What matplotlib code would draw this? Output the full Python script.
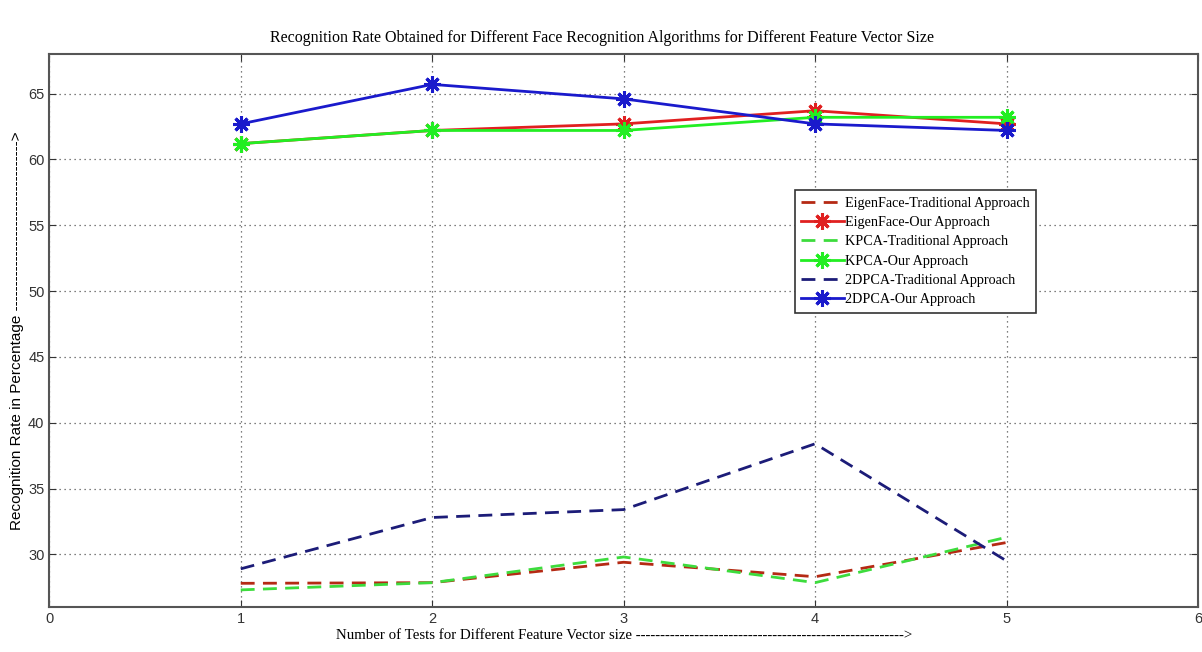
import numpy as np
import matplotlib
matplotlib.use("Agg")
import matplotlib.pyplot as plt

# values
tests = [1, 2, 3, 4, 5]
eigen_trad = [27.8, 27.85, 29.4, 28.3, 30.9]
eigen_our = [61.2, 62.2, 62.7, 63.7, 62.7]
kpca_trad = [27.3, 27.85, 29.8, 27.85, 31.3]
kpca_our = [61.2, 62.2, 62.2, 63.2, 63.2]
pca2d_trad = [28.9, 32.8, 33.4, 38.4, 29.5]
pca2d_our = [62.7, 65.7, 64.6, 62.7, 62.2]

labels = ["EigenFace-Traditional Approach", "EigenFace-Our Approach",
          "KPCA-Traditional Approach", "KPCA-Our Approach",
          "2DPCA-Traditional Approach", "2DPCA-Our Approach"]

serif = "Liberation Serif"
sans = "Liberation Sans"
star = (8, 2, 0)  # matlab-like asterisk

fig = plt.figure(figsize=(12.02, 6.52), dpi=100)
ax = fig.add_axes([0.041, 0.069, 0.9557, 0.848])

ax.plot(tests, eigen_trad, "--", color="#b52a14", lw=2, dashes=(5, 3), label=labels[0])
ax.plot(tests, eigen_our, "-", color="#e02020", lw=2, marker=star, ms=12, mew=2.2, label=labels[1])
ax.plot(tests, kpca_trad, "--", color="#3ddc3d", lw=2, dashes=(5, 3), label=labels[2])
ax.plot(tests, kpca_our, "-", color="#22ee22", lw=2, marker=star, ms=12, mew=2.2, label=labels[3])
ax.plot(tests, pca2d_trad, "--", color="#1c1c78", lw=2, dashes=(5, 3), label=labels[4])
ax.plot(tests, pca2d_our, "-", color="#1a1acc", lw=2, marker=star, ms=12, mew=2.2, label=labels[5])

ax.set_xlim(0, 6)
ax.set_ylim(26, 68)
ax.set_xticks(range(0, 7))
ax.set_yticks(range(30, 66, 5))
ax.grid(True, linestyle=(0, (1, 3)), color="#555555", lw=0.9)
ax.tick_params(direction="in", top=True, right=True, labelsize=10.5, length=5, colors="#333333")
for t in ax.get_xticklabels() + ax.get_yticklabels():
    t.set_family(sans)
for s in ax.spines.values():
    s.set_color("#555555")
    s.set_linewidth(1.5)

ttl = ax.set_title("Recognition Rate Obtained for Different Face Recognition Algorithms for Different Feature Vector Size",
                   fontsize=11.5, family=serif, pad=9)
ttl.set_x(0.481)
ax.set_xlabel("Number of Tests for Different Feature Vector size " + "-" * 55 + ">",
              fontsize=10.7, family=serif, labelpad=2)
ax.set_ylabel("Recognition Rate in Percentage " + "-" * 34 + ">",
              fontsize=11, family=sans, labelpad=3)

leg = ax.legend(loc="upper left", bbox_to_anchor=(0.649, 0.754), borderaxespad=0,
                fancybox=False, prop={"family": serif, "size": 10.2}, handlelength=3.0,
                handletextpad=0.1, labelspacing=0.45, borderpad=0.45, framealpha=1)
leg.get_frame().set_edgecolor("#333333")
leg.get_frame().set_linewidth(1.2)

fig.savefig("out.png", dpi=100)
